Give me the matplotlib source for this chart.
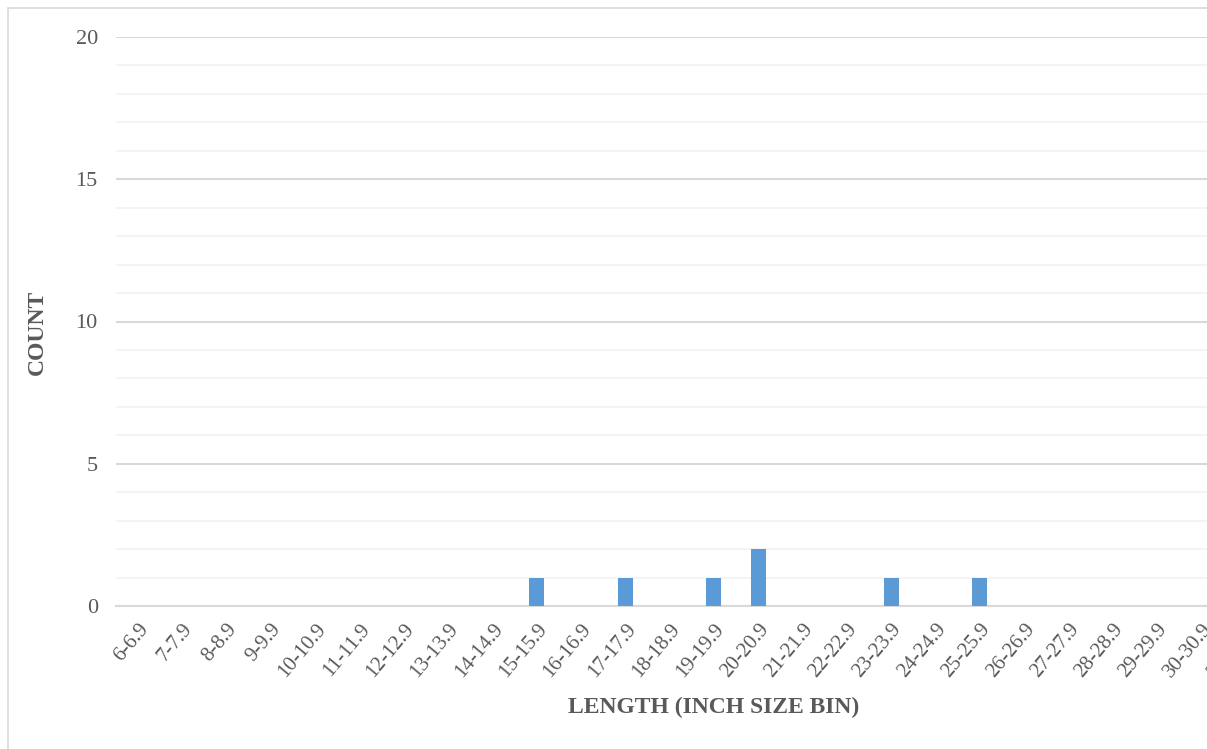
import matplotlib
matplotlib.use("Agg")
import matplotlib.pyplot as plt
from matplotlib.patches import Rectangle
from matplotlib.ticker import MultipleLocator
from matplotlib.transforms import ScaledTranslation

# Length bins (inches) and fish counts per bin
bin_starts = list(range(6, 32))
bin_labels = [f"{b}-{b}.9" for b in bin_starts]
counts = [0, 0, 0, 0, 0, 0, 0, 0, 0, 1, 0, 1, 0, 1, 2, 0, 0, 1, 0, 1, 0, 0, 0, 0, 0, 0]

W, H = 1207, 749
fig = plt.figure(figsize=(W / 100, H / 100), dpi=100)
plt.rcParams['font.family'] = ['Liberation Serif', 'DejaVu Serif']

text_color = "#595959"
major_grid = "#d9d9d9"
minor_grid = "#f2f2f2"
bar_color = "#5b9bd5"

# chart-area frame
fig.patches.append(Rectangle((8 / W, -0.1), 1.2, 1 - 8 / H + 0.1,
                             transform=fig.transFigure, fill=False,
                             edgecolor="#d9d9d9", linewidth=1.2))

slot = 44.3
left_px = 115.9
n = len(bin_labels)
ax = fig.add_axes([left_px / W, 1 - 606 / H, n * slot / W, (606 - 37) / H])

x = list(range(n))
ax.bar(x, counts, width=0.34, color=bar_color, zorder=3)

ax.set_xlim(-0.5, n - 0.5)
ax.set_ylim(0, 20)
ax.yaxis.set_major_locator(MultipleLocator(5))
ax.yaxis.set_minor_locator(MultipleLocator(1))
ax.grid(axis="y", which="major", color=major_grid, linewidth=1.5, zorder=0)
ax.grid(axis="y", which="minor", color=minor_grid, linewidth=1.2, zorder=0)
ax.set_axisbelow(True)

for s in ["left", "right", "top"]:
    ax.spines[s].set_visible(False)
ax.spines["bottom"].set_color(major_grid)
ax.spines["bottom"].set_linewidth(1.5)

ax.set_xticks(x)
ax.set_xticklabels(bin_labels, rotation=50, ha="right", va="top",
                   rotation_mode="anchor", fontsize=15, color=text_color)
shift = ScaledTranslation(-6 / 100, 0, fig.dpi_scale_trans)
for lbl in ax.get_xticklabels():
    lbl.set_transform(lbl.get_transform() + shift)
ax.tick_params(axis="x", length=0, pad=10)
ax.tick_params(axis="y", which="both", length=0, pad=13,
               labelsize=16, labelcolor=text_color)

fig.text(37 / W, 1 - 332 / H, "COUNT", rotation=90, ha="center", va="center",
         fontsize=17, fontweight="bold", color=text_color)
fig.text(714 / W, 1 - 707 / H, "LENGTH (INCH SIZE BIN)", ha="center",
         va="center", fontsize=17, fontweight="bold", color=text_color)

fig.savefig("out.png", dpi=100, facecolor="white")
